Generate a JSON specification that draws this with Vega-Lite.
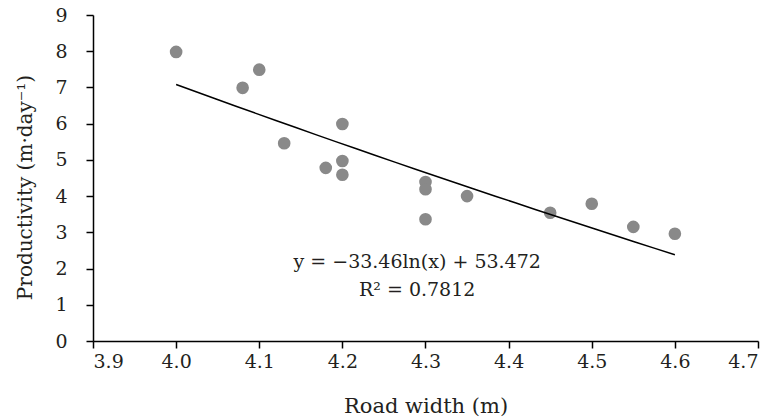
{
  "$schema": "https://vega.github.io/schema/vega-lite/v6.json",
  "width": 665,
  "height": 326,
  "autosize": {"type": "none"},
  "padding": {"left": 93, "top": 15, "right": 18, "bottom": 79},
  "background": "white",
  "config": {
    "view": {"stroke": null},
    "font": "DejaVu Serif",
    "axis": {
      "grid": false,
      "domainColor": "black",
      "domainWidth": 1.5,
      "tickColor": "black",
      "tickWidth": 1.5,
      "tickSize": 7,
      "labelFont": "DejaVu Serif",
      "labelFontSize": 19,
      "labelColor": "#231f20",
      "labelOverlap": false,
      "titleFont": "DejaVu Serif",
      "titleFontSize": 21,
      "titleFontWeight": "normal",
      "titleColor": "#231f20"
    }
  },
  "datasets": {
    "pts": [
      {"width": 4.0, "prod": 7.98},
      {"width": 4.08, "prod": 6.99},
      {"width": 4.1, "prod": 7.49},
      {"width": 4.13, "prod": 5.46},
      {"width": 4.18, "prod": 4.78},
      {"width": 4.2, "prod": 5.99},
      {"width": 4.2, "prod": 4.97},
      {"width": 4.2, "prod": 4.59},
      {"width": 4.3, "prod": 4.39},
      {"width": 4.3, "prod": 4.19},
      {"width": 4.3, "prod": 3.36},
      {"width": 4.35, "prod": 4.0},
      {"width": 4.45, "prod": 3.54},
      {"width": 4.5, "prod": 3.79},
      {"width": 4.55, "prod": 3.15},
      {"width": 4.6, "prod": 2.96}
    ],
    "labels": [
      {"width": 4.29, "prod": 2.17, "text": "y = −33.46ln(x) + 53.472"},
      {"width": 4.29, "prod": 1.4, "text": "R² = 0.7812"}
    ]
  },
  "encoding": {
    "x": {
      "field": "width", "type": "quantitative",
      "scale": {"domain": [3.9, 4.7], "nice": false, "zero": false},
      "axis": {
        "title": "Road width (m)",
        "values": [3.9, 4.0, 4.1, 4.2, 4.3, 4.4, 4.5, 4.6, 4.7],
        "format": ".1f",
        "labelOverlap": false,
        "labelPadding": 4,
        "titlePadding": 24
      }
    },
    "y": {
      "field": "prod", "type": "quantitative",
      "scale": {"domain": [0, 9], "nice": false, "zero": true},
      "axis": {
        "title": "Productivity (m·day⁻¹)",
        "values": [0, 1, 2, 3, 4, 5, 6, 7, 8, 9],
        "tickCount": 10,
        "labelOverlap": false,
        "labelPadding": 19,
        "titlePadding": 19,
        "titleFontSize": 20,
        "titleY": 172
      }
    }
  },
  "layer": [
    {
      "data": {"name": "pts"},
      "mark": {"type": "point", "filled": true, "size": 160, "color": "#898989", "opacity": 1}
    },
    {
      "data": {"name": "pts"},
      "transform": [
        {"regression": "prod", "on": "width", "method": "log", "extent": [4.0, 4.6]}
      ],
      "mark": {"type": "line", "color": "black", "strokeWidth": 1.5}
    },
    {
      "data": {"name": "labels"},
      "mark": {"type": "text", "fontSize": 19, "color": "#231f20", "align": "center", "baseline": "middle", "font": "DejaVu Serif"},
      "encoding": {
        "text": {"field": "text"}
      }
    }
  ]
}
